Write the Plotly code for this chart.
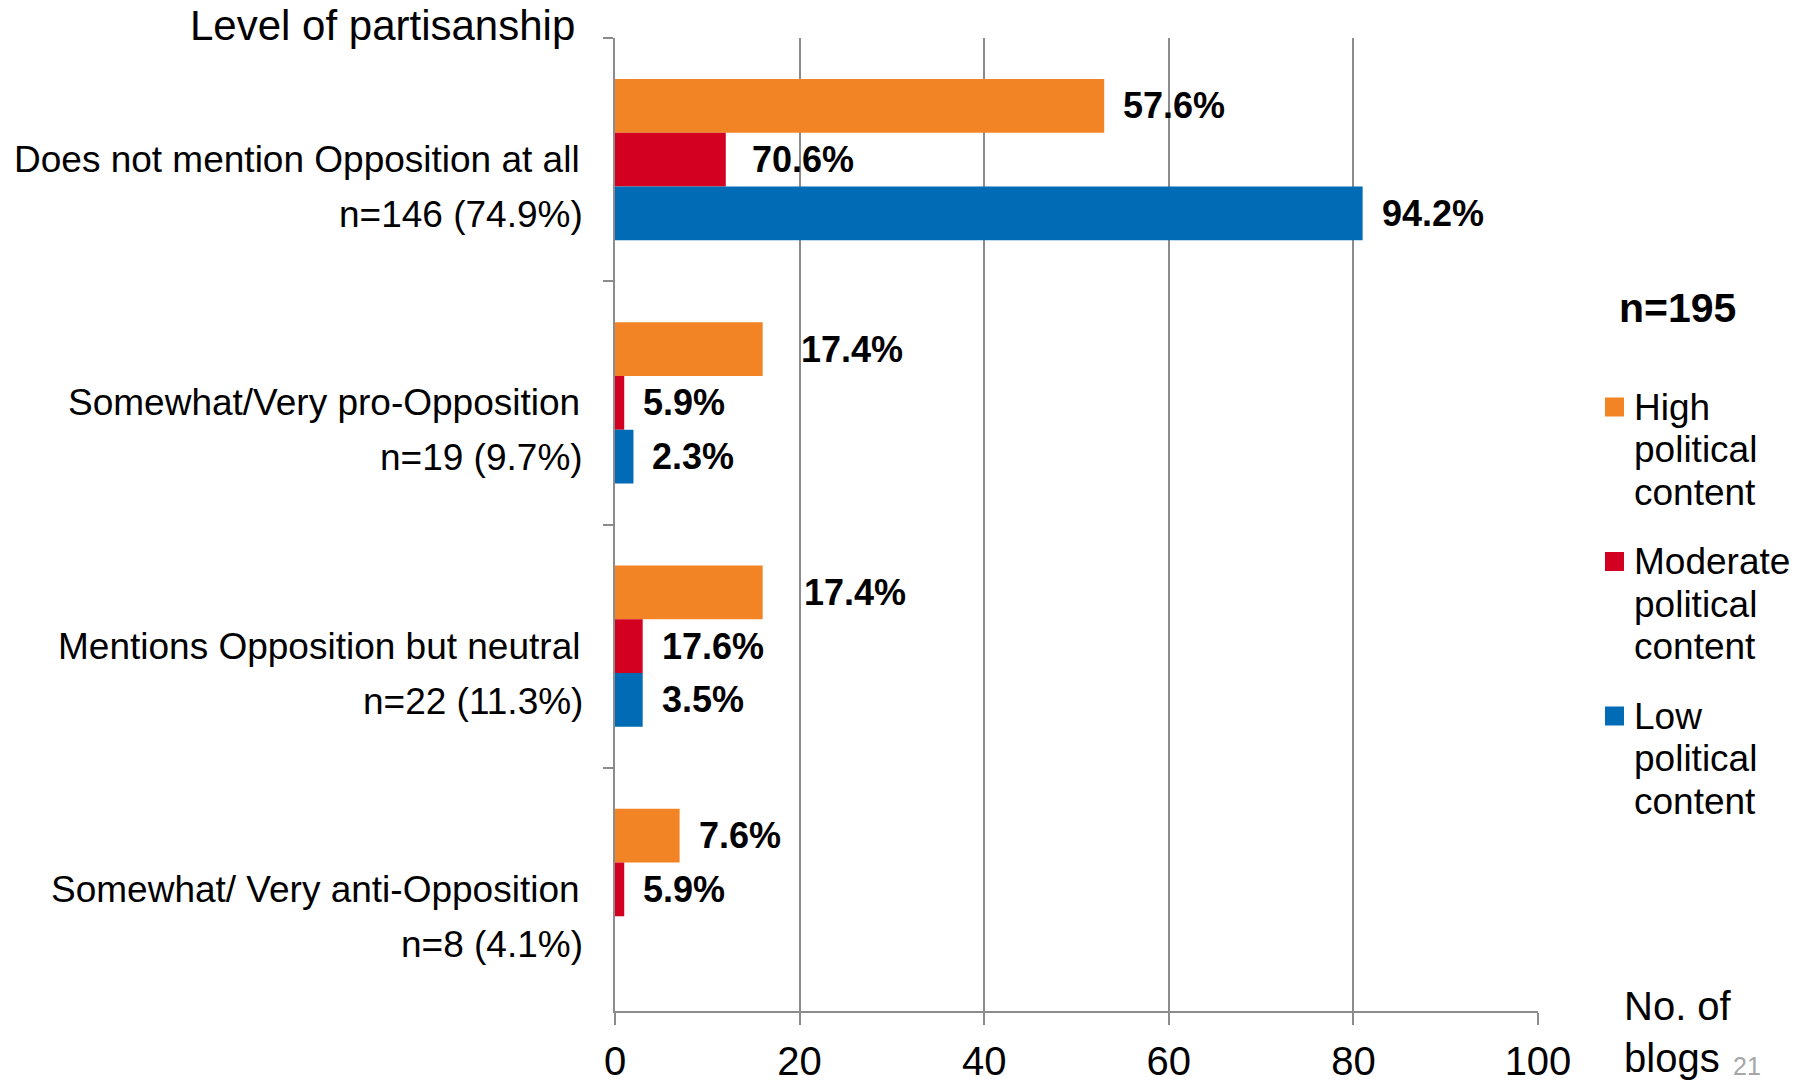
import plotly.graph_objects as go

# Partisanship categories (top to bottom) and their group sizes
categories = [
    "Does not mention Opposition at all",
    "Somewhat/Very pro-Opposition",
    "Mentions Opposition but neutral",
    "Somewhat/ Very anti-Opposition",
]
group_sizes = ["n=146 (74.9%)", "n=19 (9.7%)", "n=22 (11.3%)", "n=8 (4.1%)"]

# Number of blogs per political-content level
high_blogs = [53, 16, 16, 7]
moderate_blogs = [12, 1, 3, 1]
low_blogs = [81, 2, 3, 0]

series_names = ["High<br>political<br>content",
                "Moderate<br>political<br>content",
                "Low<br>political<br>content"]
series_values = [high_blogs, moderate_blogs, low_blogs]
series_colors = ["#F38426", "#D30021", "#016BB6"]

x_ticks = [0, 20, 40, 60, 80, 100]
total_label = "n=195"

FONT = "Liberation Sans, Arial, sans-serif"
GRID = "#8C8C8C"
BARGAP = 0.337

# Figure / plot geometry (pixels)
W, H = 1808, 1083
M_L, M_R, M_T, M_B = 615, 270, 38, 72

fig = go.Figure()
for name, vals, col in zip(series_names, series_values, series_colors):
    fig.add_trace(go.Bar(
        y=categories, x=vals, orientation="h", name=name,
        marker=dict(color=col, line=dict(width=0)),
        showlegend=False, hoverinfo="x+y",
    ))

annotations = []

# Share-of-series percentage labels next to each bar
bar_w = (1 - BARGAP) / len(series_values)
label_nudge = {(0, 1): 19, (0, 2): 22, (1, 0): 7}
for k, vals in enumerate(series_values):
    total = sum(vals)
    for i, v in enumerate(vals):
        if v == 0:
            continue
        annotations.append(dict(
            x=v, y=i + (k - 1) * bar_w, xref="x", yref="y",
            text=f"<b>{v / total * 100:.1f}%</b>", showarrow=False,
            xanchor="left", yanchor="middle",
            xshift=17 + label_nudge.get((k, i), 0),
            font=dict(family=FONT, size=36, color="black"),
        ))

# Two-line category labels on the left of the axis
for i, (cat, n) in enumerate(zip(categories, group_sizes)):
    annotations.append(dict(
        x=0, y=i, xref="paper", yref="y", text=cat, showarrow=False,
        xanchor="right", yanchor="middle", xshift=-33,
        font=dict(family=FONT, size=37, color="black"),
    ))
    annotations.append(dict(
        x=0, y=i, xref="paper", yref="y", text=n, showarrow=False,
        xanchor="right", yanchor="middle", xshift=-30, yshift=-55,
        font=dict(family=FONT, size=37, color="black"),
    ))

# Axis titles
annotations.append(dict(
    x=0, y=1, xref="paper", yref="paper", text="Level of partisanship",
    showarrow=False, xanchor="right", yanchor="middle", xshift=-38, yshift=13,
    font=dict(family=FONT, size=42, color="black"),
))
annotations.append(dict(
    x=1, y=0, xref="paper", yref="paper", text="No. of<br>blogs",
    showarrow=False, xanchor="left", yanchor="middle", align="left",
    xshift=84, yshift=-21,
    font=dict(family=FONT, size=40, color="black"),
))
annotations.append(dict(
    x=1, y=0, xref="paper", yref="paper", text="21",
    showarrow=False, xanchor="center", yanchor="middle",
    xshift=209, yshift=-55,
    font=dict(family=FONT, size=25, color="#A6A6A6"),
))

# Legend: total, then colour keys with three-line labels
annotations.append(dict(
    x=1, y=1, xref="paper", yref="paper", text=f"<b>{total_label}</b>",
    showarrow=False, xanchor="center", yanchor="middle",
    xshift=139, yshift=-270,
    font=dict(family=FONT, size=41, color="black"),
))
shapes = []
item_step = 154.5
line_step = 42.5
for k, (name, col) in enumerate(zip(series_names, series_colors)):
    top = -369 - k * item_step  # first-line centre, px from plot top
    shapes.append(dict(
        type="rect", xref="paper", yref="paper",
        xsizemode="pixel", ysizemode="pixel", xanchor=1, yanchor=1,
        x0=67, x1=86, y0=top + 9.5, y1=top - 9.5,
        fillcolor=col, line=dict(width=0),
    ))
    for j, line in enumerate(name.split("<br>")):
        annotations.append(dict(
            x=1, y=1, xref="paper", yref="paper", text=line,
            showarrow=False, xanchor="left", yanchor="middle",
            xshift=94, yshift=top - j * line_step,
            font=dict(family=FONT, size=37, color="black"),
        ))

fig.update_layout(
    width=W, height=H,
    margin=dict(l=M_L, r=M_R, t=M_T, b=M_B, pad=0, autoexpand=False),
    barmode="group", bargap=BARGAP, bargroupgap=0,
    plot_bgcolor="white", paper_bgcolor="white",
    font=dict(family=FONT, color="black"),
    annotations=annotations, shapes=shapes,
    xaxis=dict(
        range=[0, 100], tickvals=x_ticks, ticktext=[str(t) for t in x_ticks],
        showgrid=True, gridcolor=GRID, gridwidth=2,
        showline=True, linecolor=GRID, linewidth=2,
        ticks="outside", ticklen=12, tickwidth=2, tickcolor=GRID,
        tickfont=dict(family=FONT, size=40, color="black"),
        ticklabelstandoff=2, zeroline=False, fixedrange=True,
        automargin=False,
    ),
    yaxis=dict(
        categoryorder="array", categoryarray=categories,
        autorange="reversed", showticklabels=False,
        ticks="outside", tickson="boundaries", ticklen=10, tickwidth=2,
        tickcolor=GRID, showline=True, linecolor=GRID, linewidth=2,
        showgrid=False, zeroline=False, fixedrange=True,
        automargin=False,
    ),
)

fig.write_html("out.html")
